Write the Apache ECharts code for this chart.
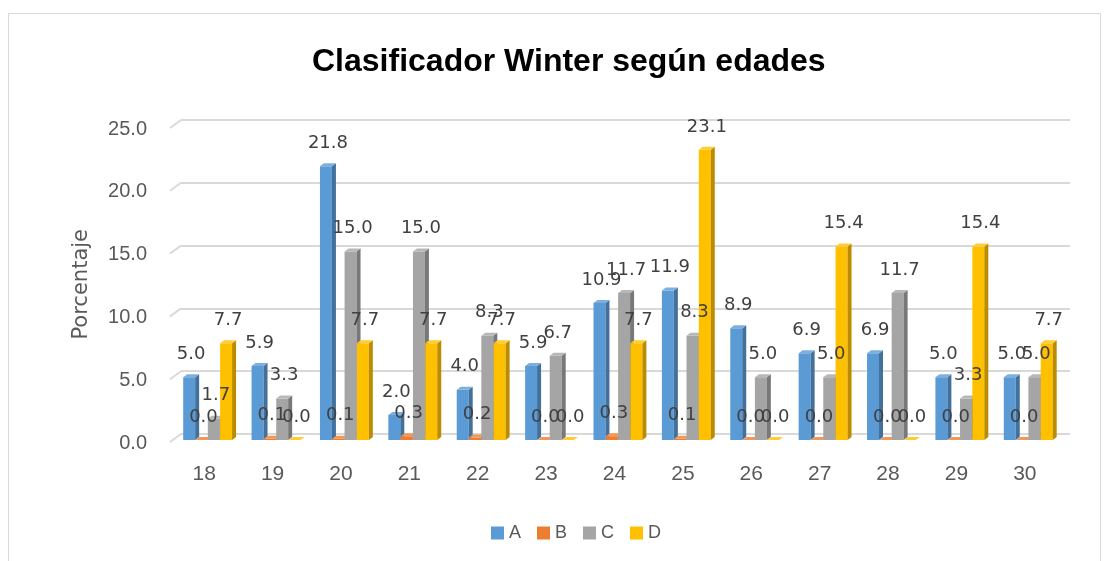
<!DOCTYPE html>
<html><head><meta charset="utf-8">
<script src="https://cdn.jsdelivr.net/npm/echarts@6/dist/echarts.min.js"></script>
<style>html,body{margin:0;padding:0;background:#fff;}
#frame{position:absolute;left:8px;top:13px;width:1093px;height:560px;border:1.5px solid #d9d9d9;box-sizing:border-box;}
#c{position:absolute;left:0;top:0;width:1113px;height:561px;}</style>
</head><body><div id="frame"></div><div id="c"></div>
<script>
const categories = ['18','19','20','21','22','23','24','25','26','27','28','29','30'];
const seriesNames = ['A','B','C','D'];
const valuesA = [5.0,5.9,21.8,2.0,4.0,5.9,10.9,11.9,8.9,6.9,6.9,5.0,5.0];
const valuesB = [0.0,0.1,0.1,0.3,0.2,0.0,0.3,0.1,0.0,0.0,0.0,0.0,0.0];
const valuesC = [1.7,3.3,15.0,15.0,8.3,6.7,11.7,8.3,5.0,5.0,11.7,3.3,5.0];
const valuesD = [7.7,0.0,7.7,7.7,7.7,0.0,7.7,23.1,0.0,15.4,0.0,15.4,7.7];
const yTicks = [0,5,10,15,20,25];
const colors = ['#5B9BD5','#ED7D31','#A5A5A5','#FFC000'];
const sideColors = ['#41719C','#AE5A21','#787878','#BC8C00'];
const topColors = ['#7DAFDE','#F1975A','#B7B7B7','#FFCD33'];
const allValues = [valuesA, valuesB, valuesC, valuesD];

const sans = "'Liberation Sans', Arial, sans-serif";

function barRenderer(i){
  return function(params, api){
    const ci = api.value(0), v = api.value(1);
    const base = api.coord([ci, 0]);
    const top = api.coord([ci, v]);
    const band = api.size([1, 0])[0];
    const w = band*0.175, step = band*0.18;
    const x0 = base[0] - band*0.468 + i*step;
    const yb = base[1] + 6, yt = top[1] + 6;
    const dx = 4, dy = -3;
    return {type:'group', children:[
      {type:'rect', shape:{x:x0, y:yt, width:w, height:yb-yt}, style:{fill:colors[i]}},
      {type:'polygon', shape:{points:[[x0+w,yt],[x0+w+dx,yt+dy],[x0+w+dx,yb+dy],[x0+w,yb]]}, style:{fill:sideColors[i]}},
      {type:'polygon', shape:{points:[[x0,yt],[x0+dx,yt+dy],[x0+w+dx,yt+dy],[x0+w,yt]]}, style:{fill:topColors[i]}},
      {type:'text', z2:100, style:{text:v.toFixed(1), x:x0+w/2+2, y:yt-23, align:'center', verticalAlign:'middle',
        font:"18px 'DejaVu Sans', sans-serif", fill:'#404040'}}
    ]};
  };
}

const chart = echarts.init(document.getElementById('c'));
chart.setOption({
  animation:false,
  title:{text:'Clasificador Winter según edades',left:307,top:41,
    textStyle:{fontFamily:sans,fontSize:32,fontWeight:'bold',color:'#000'}},
  legend:{left:486,top:519,itemWidth:13,itemHeight:13,itemGap:16,icon:'rect',
    textStyle:{fontFamily:sans,fontSize:18,color:'#595959'},data:seriesNames.map((n,i)=>({name:n,itemStyle:{color:colors[i]}}))},
  grid:{left:181,right:43,top:120,bottom:127},
  xAxis:{type:'category',data:categories,
    axisLine:{show:false},axisTick:{show:false},
    axisLabel:{fontFamily:sans,fontSize:21,color:'#595959',margin:30,padding:[0,22,0,0]}},
  yAxis:{type:'value',min:yTicks[0],max:yTicks[yTicks.length-1],interval:5,
    axisLine:{show:false},axisTick:{show:false},
    axisLabel:{fontFamily:sans,fontSize:20,color:'#595959',margin:34,verticalAlign:'top',lineHeight:18,formatter:v=>v.toFixed(1)},
    splitLine:{lineStyle:{color:'#d9d9d9',width:2}}},
  graphic:[{type:'text',left:71,top:229,rotation:Math.PI/2,
    style:{text:'Porcentaje',font:"21px 'DejaVu Sans', sans-serif",fill:'#595959'}}],
  series: [
    {type:'custom',name:'wall',silent:true,data:yTicks.map(t=>[0,t]),
      renderItem:function(params, api){
        const p = api.coord([0, api.value(1)]);
        const x = params.coordSys.x;
        return {type:'line',shape:{x1:x,y1:p[1],x2:x-11,y2:p[1]+8},style:{stroke:'#d9d9d9',lineWidth:2}};
      }},
    ...seriesNames.map((n,i)=>({
      name:n,type:'custom',itemStyle:{color:colors[i]},
      data:allValues[i].map((v,ci)=>[ci,v]),
      renderItem:barRenderer(i)
    }))
  ]
});
</script></body></html>
